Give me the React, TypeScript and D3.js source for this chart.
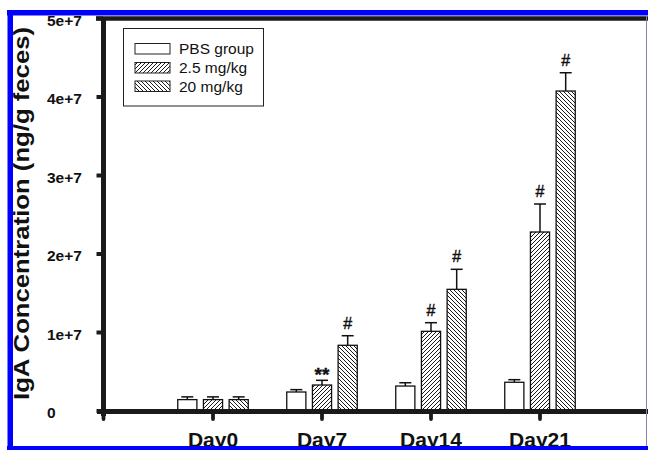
import React from "react";
import * as d3 from "d3";

const categories = ["Day0", "Day7", "Day14", "Day21"];
const seriesNames = ["PBS group", "2.5 mg/kg", "20 mg/kg"];
const pbsMeans = [1.45e6, 2.42e6, 3.18e6, 3.66e6];
const pbsErrors = [0.35e6, 0.3e6, 0.42e6, 0.33e6];
const lowMeans = [1.45e6, 3.31e6, 10.15e6, 22.8e6];
const lowErrors = [0.35e6, 0.6e6, 1.1e6, 3.57e6];
const highMeans = [1.45e6, 8.37e6, 15.5e6, 40.76e6];
const highErrors = [0.35e6, 1.22e6, 2.55e6, 2.33e6];
const pbsMarks = ["", "", "", ""];
const lowMarks = ["", "**", "#", "#"];
const highMarks = ["", "#", "#", "#"];
const yTicks = [0, 1e7, 2e7, 3e7, 4e7, 5e7];
const yTickLabels = ["0", "1e+7", "2e+7", "3e+7", "4e+7", "5e+7"];

const W = 648;
const H = 450;

export default function App() {
  const y = d3.scaleLinear().domain([0, 5e7]).range([411, 18.5]);
  const x = d3.scaleLinear().domain([0, 5]).range([104, 649]);
  const inner = d3.scaleBand<string>().domain(seriesNames).range([-35.25, 35.25]).paddingInner(0.255).paddingOuter(0);
  const bw = inner.bandwidth();
  const fills = ["#ffffff", "url(#hatchFwd)", "url(#hatchBack)"];
  const means = [pbsMeans, lowMeans, highMeans];
  const errs = [pbsErrors, lowErrors, highErrors];
  const marks = [pbsMarks, lowMarks, highMarks];
  const font = "'Liberation Sans', Arial, Helvetica, sans-serif";

  return (
    <svg width={W} height={H} style={{ position: "absolute", left: 0, top: 0, background: "#fff" }} fontFamily={font}>
      <defs>
        <pattern id="hatchFwd" patternUnits="userSpaceOnUse" width={4} height={4}>
          <rect width={4} height={4} fill="#fff" />
          <path d="M-1,1 L1,-1 M0,4 L4,0 M3,5 L5,3" stroke="#1a1a1a" strokeWidth={1} />
        </pattern>
        <pattern id="hatchBack" patternUnits="userSpaceOnUse" width={4} height={4}>
          <rect width={4} height={4} fill="#fff" />
          <path d="M-1,3 L1,5 M0,0 L4,4 M3,-1 L5,1" stroke="#1a1a1a" strokeWidth={1} />
        </pattern>
      </defs>
      <rect x={0} y={0} width={W} height={H} fill="#fff" />

      {/* bars */}
      {categories.map((c, i) => (
        <g key={c}>
          {seriesNames.map((s, j) => {
            const cx = x(i + 1) + (inner(s) as number);
            const top = y(means[j][i]);
            const cap = y(means[j][i] + errs[j][i]);
            const mid = cx + bw / 2;
            const mk = marks[j][i];
            return (
              <g key={s}>
                <line x1={mid} x2={mid} y1={top} y2={cap} stroke="#111" strokeWidth={1.5} />
                <line x1={mid - 6} x2={mid + 6} y1={cap} y2={cap} stroke="#111" strokeWidth={1.5} />
                <rect x={cx} y={top} width={bw} height={y(0) - top} fill={fills[j]} stroke="#111" strokeWidth={1.3} />
                {mk && (
                  <text x={mid} y={mk === "**" ? cap + 1 : cap - 7} textAnchor="middle" fontSize={mk === "**" ? 19 : 16} fontWeight={mk === "**" ? "bold" : "normal"} fill="#111" stroke="#111" strokeWidth={0.4}>
                    {mk}
                  </text>
                )}
              </g>
            );
          })}
        </g>
      ))}

      {/* axes */}
      <line x1={96} x2={W} y1={18.5} y2={18.5} stroke="#1a1a1a" strokeWidth={4.5} />
      <line x1={103.5} x2={103.5} y1={17} y2={416} stroke="#1a1a1a" strokeWidth={5} />
      <line x1={97} x2={W} y1={411.5} y2={411.5} stroke="#1a1a1a" strokeWidth={5} />
      <line x1={646.5} x2={646.5} y1={16} y2={446} stroke="#8a80b8" strokeWidth={1} />
      {yTicks.map((t, k) => (
        <g key={t}>
          <line x1={96.5} x2={103} y1={y(t)} y2={y(t)} stroke="#1a1a1a" strokeWidth={4} />
          <text x={47} y={y(t) + 7} fontSize={15.5} fontWeight="bold" fill="#111">
            {yTickLabels[k]}
          </text>
        </g>
      ))}
      {[0, 1, 2, 3, 4].map((v) => (
        <line key={v} x1={x(v) - (v === 0 ? 0.5 : 0)} x2={x(v) - (v === 0 ? 0.5 : 0)} y1={412} y2={419} stroke="#1a1a1a" strokeWidth={3.8} strokeLinecap="round" />
      ))}
      {categories.map((c, i) => (
        <text key={c} x={x(i + 1)} y={447} textAnchor="middle" fontSize={21} fontWeight="bold" fill="#111">
          {c}
        </text>
      ))}
      <text
        transform={`translate(29,213.5) rotate(-90)`}
        textAnchor="middle"
        fontSize={22}
        fontWeight="bold"
        fill="#111"
        textLength={373}
        lengthAdjust="spacingAndGlyphs"
      >
        IgA Concentration (ng/g feces)
      </text>

      {/* legend */}
      <rect x={123.5} y={28.5} width={140} height={77.5} fill="#fff" stroke="#222" strokeWidth={1} />
      {seriesNames.map((s, j) => {
        const ry = [43.5, 62.5, 81][j];
        return (
          <g key={s}>
            <rect x={135} y={ry} width={35} height={10.5} fill={fills[j]} stroke="#222" strokeWidth={1} />
            <text x={179} y={ry + 10.5} fontSize={15.5} fill="#111">
              {s}
            </text>
          </g>
        );
      })}

      {/* blue frame */}
      <rect x={7} y={10} width={W - 7} height={5.5} fill="#0000ff" />
      <rect x={7.5} y={10} width={5.5} height={440} fill="#0000ff" />
      <rect x={7} y={446} width={W - 7} height={4} fill="#0000ff" />
    </svg>
  );
}
